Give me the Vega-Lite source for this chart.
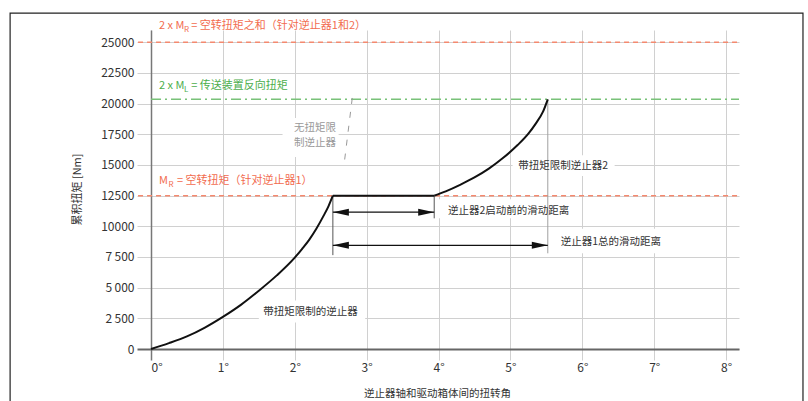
{
  "$schema": "https://vega.github.io/schema/vega-lite/v6.json",
  "width": 588,
  "height": 319,
  "autosize": {"type": "none"},
  "padding": {"left": 151, "top": 30, "right": 69, "bottom": 52},
  "background": "white",
  "config": {"view": {"stroke": null}, "font": "Noto Sans CJK SC", "text": {"font": "Noto Sans CJK SC"}},
  "datasets": {
    "curve": [
      {"s": "a", "x": 0, "y": 0}, {"s": "a", "x": 0.25, "y": 480}, {"s": "a", "x": 0.5, "y": 1030}, {"s": "a", "x": 0.75, "y": 1750},
      {"s": "a", "x": 1, "y": 2620}, {"s": "a", "x": 1.25, "y": 3600}, {"s": "a", "x": 1.5, "y": 4750}, {"s": "a", "x": 1.75, "y": 6000},
      {"s": "a", "x": 2, "y": 7450}, {"s": "a", "x": 2.1, "y": 8150}, {"s": "a", "x": 2.2, "y": 8900}, {"s": "a", "x": 2.3, "y": 9800},
      {"s": "a", "x": 2.4, "y": 10850}, {"s": "a", "x": 2.47, "y": 11650}, {"s": "a", "x": 2.53, "y": 12500},
      {"s": "b", "x": 2.53, "y": 12500}, {"s": "b", "x": 3.94, "y": 12500},
      {"s": "c", "x": 3.94, "y": 12500}, {"s": "c", "x": 4.1, "y": 12850}, {"s": "c", "x": 4.3, "y": 13380}, {"s": "c", "x": 4.5, "y": 13980},
      {"s": "c", "x": 4.7, "y": 14700}, {"s": "c", "x": 4.9, "y": 15580}, {"s": "c", "x": 5.1, "y": 16620}, {"s": "c", "x": 5.25, "y": 17550},
      {"s": "c", "x": 5.35, "y": 18350}, {"s": "c", "x": 5.45, "y": 19300}, {"s": "c", "x": 5.52, "y": 20350}
    ],
    "frame": [{"x": -1.96, "x2": 9.07, "y": 27380, "y2": -5000}],
    "limits": [
      {"x": -0.18, "x2": 8.18, "y": 25000},
      {"x": -0.18, "x2": 8.18, "y": 12500}
    ],
    "reverse": [{"x": 0, "x2": 8.18, "y": 20350}],
    "vdark": [
      {"x": 2.53, "y": 12500, "y2": 7650},
      {"x": 3.94, "y": 12500, "y2": 10650}
    ],
    "vlight": [
      {"x": 5.52, "y": 20350, "y2": 7800}
    ],
    "arrows": [
      {"x": 2.53, "x2": 3.94, "y": 11150},
      {"x": 2.53, "x2": 5.52, "y": 8450}
    ],
    "heads": [
      {"x": 2.53, "y": 11150, "dir": "L"}, {"x": 3.94, "y": 11150, "dir": "R"},
      {"x": 2.53, "y": 8450, "dir": "L"}, {"x": 5.52, "y": 8450, "dir": "R"}
    ],
    "boxes": [
      {"x": 4.0, "x2": 5.88, "y": 10650, "y2": 12200},
      {"x": 5.6, "x2": 7.32, "y": 7800, "y2": 9800},
      {"x": 1.5, "x2": 2.98, "y": 2150, "y2": 3950},
      {"x": 5.03, "x2": 6.45, "y": 14100, "y2": 15800},
      {"x": 1.83, "x2": 2.61, "y": 15650, "y2": 18830}
    ],
    "leader": [
      {"x": 2.8, "y": 20460, "x2": 2.69, "y2": 15240}
    ],
    "labels": [
      {"t": "逆止器2启动前的滑动距离", "x": 4.13, "y": 11248},
      {"t": "逆止器1总的滑动距离", "x": 5.7, "y": 8746},
      {"t": "带扭矩限制的逆止器", "x": 1.56, "y": 3040},
      {"t": "带扭矩限制逆止器2", "x": 5.11, "y": 14916}
    ],
    "graylabels": [
      {"t": "无扭矩限", "x": 2.28, "y": 17988},
      {"t": "制逆止器", "x": 2.28, "y": 16766}
    ],
    "notes": [
      {"t": "2 x M", "x": 0.111, "y": 26351, "k": "R"},
      {"t": "= 空转扭矩之和（针对逆止器1和2）", "x": 0.56, "y": 26351, "k": "R"},
      {"t": "2 x M", "x": 0.111, "y": 21460, "k": "L"},
      {"t": "= 传送装置反向扭矩", "x": 0.56, "y": 21460, "k": "L"},
      {"t": "M", "x": 0.111, "y": 13693, "k": "R"},
      {"t": "= 空转扭矩（针对逆止器1）", "x": 0.36, "y": 13693, "k": "R"}
    ],
    "subs": [
      {"t": "R", "x": 0.46, "y": 26351, "k": "R"},
      {"t": "L", "x": 0.46, "y": 21460, "k": "L"},
      {"t": "R", "x": 0.243, "y": 13693, "k": "R"}
    ]
  },
  "encoding": {
    "x": {
      "field": "x", "type": "quantitative",
      "scale": {"domain": [0, 8.18], "nice": false, "zero": false},
      "axis": {
        "values": [0, 1, 2, 3, 4, 5, 6, 7, 8],
        "labelExpr": "datum.value + '°'",
        "labelOverlap": false,
        "title": "逆止器轴和驱动箱体间的扭转角",
        "grid": true, "gridColor": "#d0d0d0", "gridWidth": 1,
        "tickColor": {"condition": {"test": "datum.value === 0", "value": "#777"}, "value": "#d0d0d0"},
        "tickWidth": {"condition": {"test": "datum.value === 0", "value": 1.5}, "value": 1},
        "tickSize": 11,
        "domainColor": "#666", "domainWidth": 2,
        "labelFont": "Noto Sans CJK SC", "labelFontSize": 12, "labelColor": "#333", "labelPadding": 2,
        "titleFont": "Noto Sans CJK SC", "titleFontSize": 10.5, "titleFontWeight": "normal", "titleColor": "#333",
        "titleX": 286, "titleY": 44, "titleAlign": "center", "titleBaseline": "middle"
      }
    },
    "y": {
      "field": "y", "type": "quantitative",
      "scale": {"domain": [0, 26000], "nice": false},
      "axis": {
        "values": [0, 2500, 5000, 7500, 10000, 12500, 15000, 17500, 20000, 22500, 25000],
        "labelExpr": "datum.value > 0 && datum.value < 10000 ? replace(format(datum.value, ','), ',', '\u2009') : format(datum.value, 'd')",
        "labelOverlap": false,
        "title": "累积扭矩 [Nm]",
        "grid": true, "gridColor": "#d0d0d0", "gridWidth": 1,
        "tickColor": {"condition": {"test": "datum.value === 0", "value": "#666"}, "value": "#d0d0d0"},
        "tickWidth": {"condition": {"test": "datum.value === 0", "value": 2}, "value": 1},
        "tickSize": 14,
        "domainColor": "#777", "domainWidth": 1.5,
        "labelFont": "Noto Sans CJK SC", "labelFontSize": 12, "labelColor": "#333", "labelPadding": 3,
        "titleFont": "Noto Sans CJK SC", "titleFontSize": 11, "titleFontWeight": "normal", "titleColor": "#333",
        "titleX": -74, "titleY": 159, "titleAlign": "center", "titleBaseline": "middle", "titleAngle": -90
      }
    }
  },
  "layer": [
    {
      "data": {"name": "frame"},
      "mark": {"type": "rect", "fillOpacity": 0, "stroke": "#222", "strokeWidth": 1.2},
      "encoding": {"x2": {"field": "x2"}, "y2": {"field": "y2"}}
    },
    {
      "data": {"name": "limits"},
      "mark": {"type": "rule", "color": "#f4896f", "strokeWidth": 1.5, "strokeDash": [5, 4]},
      "encoding": {"x2": {"field": "x2"}}
    },
    {
      "data": {"name": "reverse"},
      "mark": {"type": "rule", "color": "#79c279", "strokeWidth": 1.5, "strokeDash": [10, 4, 2, 4]},
      "encoding": {"x2": {"field": "x2"}}
    },
    {
      "data": {"name": "boxes"},
      "mark": {"type": "rect", "color": "white"},
      "encoding": {"x2": {"field": "x2"}, "y2": {"field": "y2"}}
    },
    {
      "data": {"name": "vdark"},
      "mark": {"type": "rule", "strokeWidth": 1, "color": "#555"},
      "encoding": {"y2": {"field": "y2"}}
    },
    {
      "data": {"name": "vlight"},
      "mark": {"type": "rule", "strokeWidth": 1, "color": "#a0a0a0"},
      "encoding": {"y2": {"field": "y2"}}
    },
    {
      "data": {"name": "curve"},
      "mark": {"type": "line", "color": "#111", "strokeWidth": 2, "interpolate": "monotone"},
      "encoding": {"detail": {"field": "s", "type": "nominal"}}
    },
    {
      "data": {"name": "arrows"},
      "mark": {"type": "rule", "color": "#111", "strokeWidth": 1.2},
      "encoding": {"x2": {"field": "x2"}}
    },
    {
      "data": {"name": "heads"},
      "mark": {"type": "point", "filled": true, "color": "#111", "opacity": 1, "size": 1024, "strokeWidth": 0},
      "encoding": {
        "shape": {"field": "dir", "type": "nominal", "scale": {"domain": ["L", "R"], "range": ["M0,0L1,-0.22L1,0.22Z", "M0,0L-1,-0.22L-1,0.22Z"]}, "legend": null}
      }
    },
    {
      "data": {"name": "leader"},
      "mark": {"type": "rule", "color": "#999", "strokeWidth": 1, "strokeDash": [6, 8]},
      "encoding": {"x2": {"field": "x2"}, "y2": {"field": "y2"}}
    },
    {
      "data": {"name": "labels"},
      "mark": {"type": "text", "align": "left", "baseline": "middle", "fontSize": 10.5, "color": "#333", "font": "Noto Sans CJK SC"},
      "encoding": {"text": {"field": "t"}}
    },
    {
      "data": {"name": "graylabels"},
      "mark": {"type": "text", "align": "center", "baseline": "middle", "fontSize": 10.5, "color": "#999", "font": "Noto Sans CJK SC"},
      "encoding": {"text": {"field": "t"}}
    },
    {
      "data": {"name": "notes"},
      "mark": {"type": "text", "align": "left", "baseline": "middle", "fontSize": 11, "font": "Noto Sans CJK SC"},
      "encoding": {
        "text": {"field": "t"},
        "color": {"field": "k", "type": "nominal", "scale": {"domain": ["R", "L"], "range": ["#f26c4f", "#4cae4c"]}, "legend": null}
      }
    },
    {
      "data": {"name": "subs"},
      "mark": {"type": "text", "align": "left", "baseline": "middle", "fontSize": 8, "dy": 4, "font": "Noto Sans CJK SC"},
      "encoding": {
        "text": {"field": "t"},
        "color": {"field": "k", "type": "nominal", "scale": {"domain": ["R", "L"], "range": ["#f26c4f", "#4cae4c"]}, "legend": null}
      }
    }
  ]
}
